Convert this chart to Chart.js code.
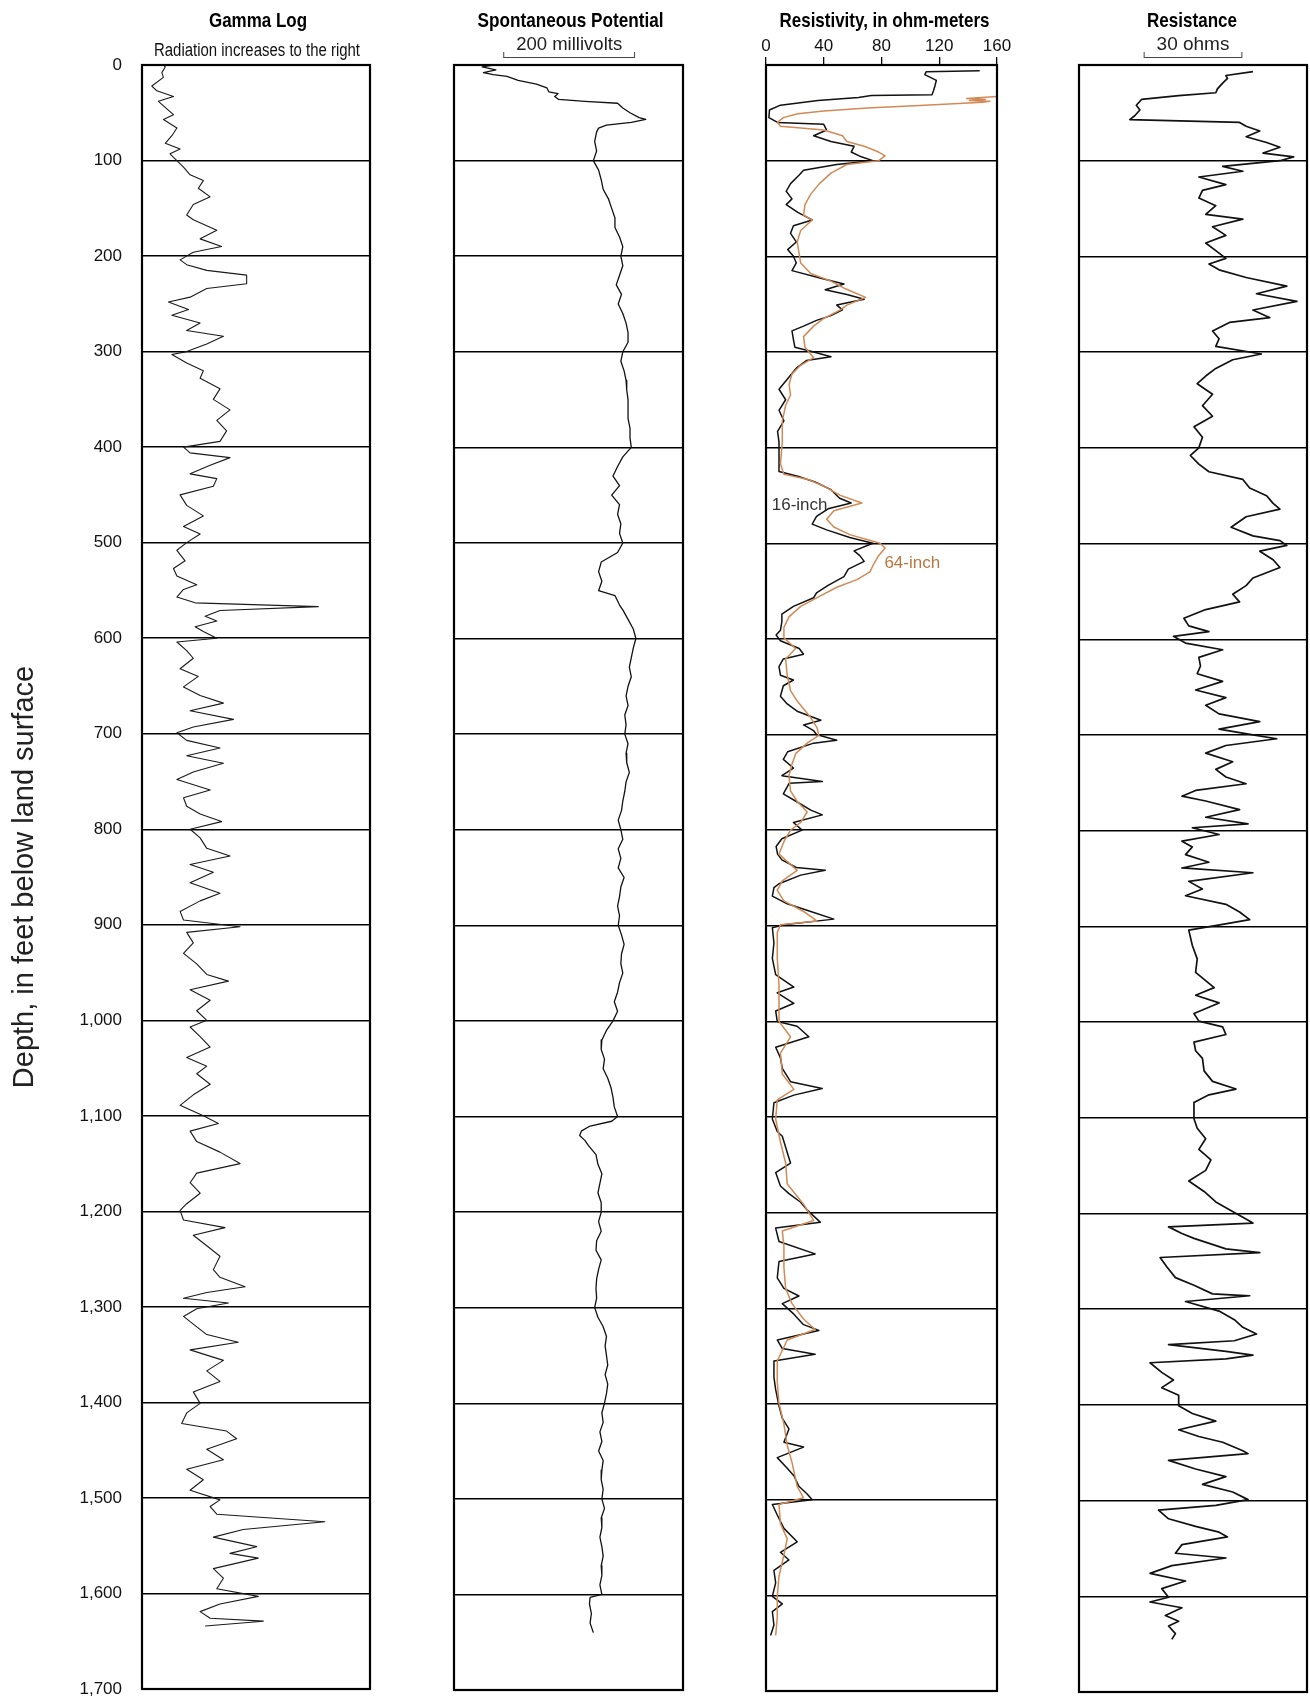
<!DOCTYPE html>
<html>
<head>
<meta charset="utf-8">
<title>Geophysical logs</title>
<script src="https://cdn.jsdelivr.net/npm/chart.js@4.4.0/dist/chart.umd.min.js"></script>
<style>
  html, body { margin: 0; padding: 0; background: #fff; }
  #page { position: relative; width: 1310px; height: 1697px; }
  #page canvas { position: absolute; left: 0; top: 0; }
</style>
</head>
<body>
<div id="page">
  <canvas id="gamma" width="1310" height="1697"></canvas>
  <canvas id="sp" width="1310" height="1697"></canvas>
  <canvas id="resistivity" width="1310" height="1697"></canvas>
  <canvas id="resistance" width="1310" height="1697"></canvas>
</div>
<script>
// ---- data (depth in feet, values in each track's units) ----

// gamma, relative units (0 = left edge, 100 = right edge of track)
const gammaDepth = [0, 2, 8, 13, 22, 27, 33, 38, 46, 52, 57, 66, 74, 82, 88, 93, 100, 107, 115, 121, 129, 138, 146, 157, 162, 173, 182, 190, 196,
  204, 209, 215, 220, 229, 234, 243, 248, 256, 262, 270, 278, 284, 292, 300, 303, 312, 320, 328, 339, 350, 361, 372, 383, 394,
  400, 406, 411, 419, 428, 433, 441, 450, 461, 472, 483, 491, 500, 508, 519, 527, 535, 544, 549, 557, 563, 567, 571, 577, 582, 588, 593,
  600, 604, 613, 621, 632, 640, 651, 660, 668, 676, 685, 693, 699, 707, 715, 723, 731, 740, 748, 759, 767, 776, 784, 792,
  800, 809, 820, 828, 837, 845, 856, 867, 875, 886, 895, 902, 908, 919, 930, 941, 952, 959, 968, 979, 990,
  1000, 1007, 1017, 1028, 1039, 1048, 1056, 1067, 1078, 1089, 1100, 1108, 1116, 1127, 1138, 1150, 1160, 1170, 1181, 1192, 1199,
  1209, 1217, 1225, 1236, 1247, 1261, 1269, 1279, 1285, 1291, 1296, 1302, 1310, 1318, 1329, 1337, 1345, 1356, 1367, 1378, 1389,
  1401, 1411, 1422, 1430, 1438, 1449, 1460, 1470, 1481, 1492, 1502, 1509, 1517, 1525, 1533, 1541, 1551, 1558, 1563, 1574, 1584, 1595,
  1603, 1611, 1619, 1626, 1629, 1634];
const gammaValue = [9.5, 10.2, 8.7, 9.4, 4.3, 6.5, 13.8, 7.2, 10.9, 13.8, 9.4, 15.3, 13.1, 10.2, 16.7, 12.3, 15.3, 18.2, 21.1, 26.9, 24.7, 29.9, 22.5, 19.6, 22.5, 32.8, 25.5, 34.9, 22.5,
  16.7, 19.6, 28.4, 45.9, 45.9, 28.4, 21.1, 11.6, 20.4, 13.1, 25.5, 19.6, 35.7, 28.4, 19.6, 13.1, 19.6, 26.9, 25.5, 34.2, 31.3, 38.6, 32.8, 37.1, 34.2,
  18.2, 21.1, 38.6, 29.9, 21.1, 32.8, 31.3, 16.7, 19.6, 26.9, 18.2, 25.5, 19.6, 15.3, 18.9, 13.8, 15.3, 24.0, 18.2, 15.3, 23.3, 77.3, 34.2, 27.7, 32.8, 23.3, 26.9,
  32.8, 15.3, 19.6, 22.5, 16.7, 24.7, 18.2, 25.5, 35.7, 21.1, 40.1, 22.5, 15.3, 19.6, 34.2, 19.6, 35.7, 22.5, 15.3, 29.9, 18.2, 19.6, 25.5, 34.9,
  21.1, 25.5, 28.4, 38.6, 21.1, 31.3, 21.1, 34.2, 25.5, 16.7, 18.2, 43.0, 19.6, 22.5, 18.2, 24.0, 28.4, 37.9, 21.1, 29.9, 24.0,
  28.4, 21.1, 25.5, 29.9, 19.6, 28.4, 24.0, 29.9, 22.5, 16.7, 26.9, 33.5, 21.1, 24.0, 34.2, 43.0, 24.0, 21.1, 25.5, 19.6, 16.7,
  18.2, 36.4, 22.5, 28.4, 34.2, 31.3, 34.2, 45.2, 28.4, 18.2, 37.9, 24.0, 18.2, 22.5, 28.4, 42.2, 21.1, 35.7, 28.4, 34.2, 22.5,
  25.5, 19.6, 17.4, 37.1, 41.5, 28.4, 35.7, 19.6, 26.9, 21.1, 34.2, 29.9, 32.8, 80.2, 44.4, 31.3, 50.3, 38.6, 51.0, 31.3, 35.7, 32.8,
  51.0, 34.2, 25.5, 29.9, 53.2, 27.7];

// spontaneous potential, millivolts from the left edge of the track
const spDepth = [0, 2, 5, 8, 10, 12, 16, 20, 24, 28, 30, 33, 36, 38, 40, 45, 50, 55, 57, 60, 63, 66, 70, 80, 90,
  100, 110, 120, 130, 140, 150, 160, 170, 180, 190, 200, 210, 220, 230, 240, 250, 260, 270, 280, 290,
  300, 310, 320, 330, 340, 350, 360, 370, 380, 390, 400, 410, 420, 430, 440, 450, 460, 470, 480, 490,
  500, 510, 520, 530, 540, 550, 555, 565, 570, 580, 590, 600, 610, 620, 630, 640, 650, 660, 670, 680, 690,
  700, 710, 720, 730, 740, 750, 760, 770, 780, 790, 800, 810, 820, 830, 840, 850, 860, 870, 880, 890,
  900, 910, 920, 930, 940, 950, 960, 970, 980, 990, 1000, 1010, 1020, 1030, 1040, 1050, 1060, 1070, 1080, 1090,
  1100, 1105, 1110, 1115, 1120, 1125, 1130, 1140, 1150, 1160, 1170, 1180, 1190, 1200, 1210, 1220, 1230, 1240, 1250, 1260, 1270, 1280, 1290,
  1300, 1310, 1320, 1330, 1340, 1350, 1360, 1370, 1380, 1390, 1400, 1410, 1420, 1430, 1440, 1450, 1460, 1470, 1480, 1490,
  1500, 1510, 1520, 1530, 1540, 1550, 1560, 1570, 1580, 1590, 1600, 1603, 1610, 1620, 1630, 1640];
const spValue = [60, 43, 64, 45, 60, 81, 98, 126, 142, 145, 159, 154, 160, 200, 250, 258, 269, 283, 293, 271, 233, 221, 218, 215, 218,
  213, 221, 225, 228, 236, 241, 246, 246, 253, 258, 255, 258, 253, 248, 256, 251, 258, 263, 266, 266,
  258, 255, 260, 263, 264, 266, 266, 266, 269, 269, 271, 258, 250, 243, 253, 241, 253, 250, 255, 253,
  258, 250, 225, 221, 226, 221, 246, 253, 258, 266, 274, 278, 274, 271, 268, 271, 266, 263, 266, 261, 263,
  261, 266, 263, 264, 268, 263, 261, 258, 256, 251, 255, 258, 251, 255, 251, 260, 255, 253, 250, 253,
  251, 256, 260, 256, 255, 258, 253, 250, 245, 250, 243, 233, 226, 225, 230, 228, 235, 240, 243, 245,
  250, 241, 208, 195, 192, 200, 205, 217, 220, 226, 223, 220, 225, 225, 221, 225, 218, 217, 225, 221, 218, 217, 218,
  215, 220, 228, 233, 231, 233, 235, 231, 235, 233, 230, 226, 228, 223, 226, 221, 228, 226, 225, 228,
  226, 230, 225, 226, 223, 226, 228, 225, 226, 223, 226, 208, 207, 210, 208, 213];

// resistivity, ohm-meters, 16-inch normal
const res16Depth = [6, 7, 10, 16, 22, 27, 31, 32, 34, 37, 42, 47, 55, 60, 62, 68, 74, 80, 85, 91, 96,
  100, 104, 110, 115, 124, 132, 140, 146, 154, 162, 168, 176, 185, 193, 200, 207, 215, 223, 229, 235, 240, 245, 251, 256, 262, 267, 273, 278, 287, 295,
  300, 305, 309, 317, 328, 339, 350, 361, 372, 383, 394, 406, 417, 425, 430, 436, 444, 453, 458, 464, 472, 480, 486, 494,
  500, 508, 513, 519, 527, 535, 544, 552, 557, 566, 574, 582, 591, 596, 602, 610, 616, 621, 629, 638, 643, 649, 660, 668, 676, 685, 690, 696,
  700, 706, 709, 718, 726, 735, 743, 749, 751, 762, 770, 779, 784, 792, 800, 809, 817, 825, 831, 839, 842, 847, 856, 860, 869, 877, 885, 893, 899,
  902, 918, 934, 951, 964, 970, 981, 989, 1000, 1005, 1016, 1027, 1038, 1049, 1063, 1070, 1077, 1085,
  1102, 1115, 1120, 1137, 1148, 1158, 1172, 1180, 1189, 1197, 1210, 1216, 1230, 1243, 1251, 1268, 1279, 1287, 1295,
  1306, 1317, 1323, 1333, 1342, 1348, 1355, 1372, 1385, 1402, 1415, 1426, 1440, 1445, 1456, 1467, 1475, 1486, 1494,
  1500, 1505, 1516, 1530, 1544, 1555, 1563, 1574, 1587, 1601, 1609, 1617, 1631, 1642];
const res16Value = [148, 111, 110, 118, 117, 116, 115, 73, 64, 36, 10, 2.4, 2, 8, 40, 42, 33, 45, 61, 59, 66,
  74, 49, 26, 23, 17, 14, 18, 14, 22, 32, 19, 17, 21, 15, 19, 21, 18, 38, 54, 41, 56, 68, 49, 53, 45, 35, 26, 18, 19, 20,
  33, 45, 28, 21, 15, 9, 13.6, 9, 12.4, 8, 9, 9, 9, 9, 22, 34, 45, 51, 59, 43, 35, 32, 42, 58,
  74, 61, 65, 68, 57, 54, 43, 35, 33, 19, 11, 11, 10, 7, 10, 23, 26, 12, 9, 10, 19, 12, 10, 14.7, 22, 38, 26, 33,
  35, 49, 33, 15, 12, 19, 11, 39, 16, 12, 21, 31, 39, 19, 25, 11, 7, 8, 11, 21, 41, 24, 9, 5.5, 4.4, 14.7, 31, 47, 12.4,
  4.4, 5.5, 4.4, 6.7, 19.3, 7.8, 19.3, 6.7, 7.8, 21.6, 29.7, 6.7, 10, 11.3, 17, 38.9, 19.3, 5.5,
  4.4, 7.8, 11.3, 14.7, 17, 6.7, 10, 15.9, 24, 28.5, 37.7, 6.7, 9, 34, 9, 7.8, 12.4, 22.8, 11.3,
  19.3, 26, 36.6, 7.8, 11.3, 34, 5.5, 5.5, 6.7, 9, 11.3, 15.9, 12.4, 26, 7.8, 14.7, 19.3, 22.8, 28.5,
  32, 4.4, 7.8, 12.4, 21.6, 10, 15.9, 5.5, 6.7, 4.4, 11.3, 4.4, 5.5, 3.2];

// resistivity, ohm-meters, 64-inch normal
const res64Depth = [33, 35, 36, 37, 38, 39, 42, 45, 48, 51, 55, 60, 64, 68, 74, 80, 85, 91, 95,
  100, 104, 113, 124, 135, 146, 157, 162, 173, 185, 196, 207, 218, 226, 234, 243, 251, 256, 265, 273, 284, 295,
  306, 314, 323, 334, 345, 356, 372, 394, 417, 428, 433, 441, 450, 458, 466, 475, 483, 491,
  500, 505, 513, 522, 530, 538, 546, 555, 566, 577, 588, 599, 610, 621, 638, 654, 665, 682, 693,
  701, 709, 720, 731, 743, 759, 770, 781, 792, 800, 812, 825, 842, 853, 863, 874, 885, 895, 899,
  907, 934, 962, 984, 1000, 1016, 1033, 1055, 1071, 1082, 1102, 1126, 1148, 1170, 1191, 1208, 1219, 1235, 1257, 1279, 1295,
  1311, 1322, 1333, 1355, 1377, 1399, 1421, 1443, 1461, 1486, 1498, 1505, 1525, 1541, 1558, 1580, 1601, 1623, 1642];
const res64Value = [160, 139, 152, 141, 155, 150, 110, 70, 40, 22, 12, 8, 10, 40, 53, 56, 68, 78, 82.5,
  78, 56, 45, 37, 31, 27, 26, 32, 24, 21.6, 22.8, 24, 31, 45, 55, 69, 56, 51.5, 40, 33, 26, 27,
  33, 24, 18, 16, 17, 13.6, 11.3, 11.3, 10, 12.4, 28.5, 41, 51.5, 66.4, 47, 42, 47, 58,
  79, 82.5, 78, 74.5, 72, 63, 49, 37.7, 24, 15.9, 12.4, 12.4, 20.5, 13.6, 14.7, 17, 21.6, 30.8, 35.4,
  36.6, 28.5, 20.5, 18, 15.9, 17, 21.6, 28.5, 24, 17, 12.4, 9, 21.6, 11.3, 7.8, 12.4, 26, 35.4, 10,
  7.8, 7.8, 9, 9, 9, 17, 10, 11.3, 19.3, 7.8, 6.7, 10, 13.6, 14.7, 26, 33, 11.3, 12.4, 12.4, 13.6, 18,
  26, 34, 14.7, 7.8, 7.8, 9, 12.4, 14.7, 18, 21.6, 26, 9, 10, 14.7, 12.4, 9, 7.8, 7.8, 6.7];

// resistance, ohms
const ohmDepth = [7, 11, 14, 19, 25, 29, 32, 36, 42, 47, 53, 57, 60, 64, 69, 75, 81, 86, 92, 96,
  100, 106, 111, 117, 125, 131, 139, 147, 156, 161, 169, 178, 186, 194, 202, 208, 214, 222, 231, 239, 247, 256, 264, 269, 278, 286, 294,
  302, 308, 317, 325, 333, 344, 356, 367, 378, 389, 400, 408, 417, 425, 433, 442, 450, 458, 464, 472, 483, 492, 497,
  502, 508, 517, 525, 536, 544, 553, 561, 569, 578, 586, 592, 597, 604, 611, 619, 628, 636, 644, 653, 661, 669, 678, 686, 694,
  700, 704, 711, 719, 728, 736, 744, 751, 758, 764, 769, 778, 786, 793, 797, 804, 811, 817, 825, 833, 839, 844, 853, 861, 868, 877, 885, 893, 898,
  904, 920, 934, 948, 964, 972, 980, 991, 999, 1005, 1013, 1021, 1030, 1038, 1051, 1062, 1070, 1076, 1084,
  1101, 1111, 1122, 1133, 1144, 1155, 1166, 1177, 1188, 1196, 1204, 1210, 1214, 1221, 1226, 1237, 1241, 1246, 1256, 1267, 1275, 1284, 1286, 1292,
  1302, 1311, 1319, 1326, 1333, 1337, 1344, 1348, 1352, 1356, 1366, 1374, 1382, 1390, 1401, 1409, 1417, 1426, 1433, 1439, 1448, 1451, 1458, 1467, 1475, 1483, 1491, 1499,
  1505, 1510, 1519, 1527, 1533, 1538, 1546, 1555, 1560, 1568, 1576, 1584, 1592, 1601, 1606, 1612, 1620, 1626, 1631, 1639, 1645];
const ohmValue = [53.4, 45.1, 45.6, 44.1, 42.5, 42.0, 30.6, 19.2, 17.6, 18.7, 17.1, 15.6, 49.3, 51.3, 55.5, 51.3, 57.6, 61.7, 56.5, 65.9,
  61.7, 44.1, 50.3, 36.8, 45.1, 37.9, 36.8, 42.0, 38.9, 50.3, 41.0, 45.1, 38.9, 42.0, 45.1, 39.9, 43.0, 51.3, 63.8, 54.5, 66.9, 53.4, 58.6, 46.2, 41.0, 43.0, 42.0,
  56.0, 47.2, 42.0, 38.9, 36.3, 41.0, 37.9, 41.0, 35.3, 37.9, 36.8, 34.2, 36.8, 39.9, 50.3, 52.4, 57.6, 59.6, 61.7, 51.3, 46.7, 53.4, 61.7,
  63.8, 55.5, 59.6, 61.7, 53.4, 51.3, 47.2, 49.3, 38.9, 32.2, 33.7, 39.9, 29.0, 32.7, 44.1, 36.8, 37.3, 36.3, 44.1, 35.8, 45.1, 38.9, 43.0, 55.5, 43.0,
  53.4, 60.7, 45.1, 38.9, 47.2, 42.0, 45.1, 51.3, 35.8, 31.6, 38.9, 49.3, 38.9, 51.9, 34.8, 43.0, 31.6, 34.8, 32.7, 39.9, 31.6, 53.4, 33.7, 37.9, 32.7, 45.1, 49.3, 52.4, 44.1,
  33.7, 34.8, 36.3, 35.8, 41.5, 35.8, 43.0, 35.3, 36.8, 44.1, 45.1, 35.3, 35.8, 37.9, 38.4, 41.0, 48.2, 39.9, 35.3,
  35.3, 36.3, 38.9, 36.8, 40.5, 38.9, 33.7, 38.4, 42.0, 46.2, 50.3, 53.4, 27.5, 31.6, 35.3, 45.1, 55.5, 24.9, 27.0, 29.6, 35.3, 41.0, 52.4, 32.7,
  43.0, 47.7, 50.3, 54.5, 47.7, 27.5, 45.1, 53.4, 45.1, 21.8, 25.4, 29.0, 25.4, 30.6, 30.6, 34.8, 42.0, 30.6, 36.8, 44.1, 50.3, 51.9, 27.5, 35.8, 45.1, 37.9, 47.2, 51.9,
  42.0, 24.4, 27.5, 35.8, 43.0, 45.6, 31.6, 29.6, 45.1, 28.5, 21.8, 32.7, 25.4, 27.5, 21.8, 31.6, 26.5, 30.6, 27.5, 29.6, 28.5];

// axis / scale-bar values
const depthTicks = [0, 1700, 100];          // min, max, step
const resistivityTicks = [0, 160, 40];
const spBar = [76, 276];                     // 200 millivolts
const ohmBar = [20, 50];                     // 30 ohms

// ---- drawing ----
const SANS = "'Liberation Sans', Arial, sans-serif";

function pts(depths, values) {
  return depths.map((d, i) => ({ x: values[i], y: d }));
}

// the source uses a condensed face; squeeze regular text to the measured width
function squeezed(ctx, text, x, y, font, width) {
  ctx.font = font;
  const s = Math.min(1, width / ctx.measureText(text).width);
  ctx.save();
  ctx.translate(x, y);
  ctx.scale(s, 1);
  ctx.fillText(text, 0, 0);
  ctx.restore();
}

const trackPlugin = {
  id: 'track',
  afterDraw(chart, args, opts) {
    const { ctx, chartArea: a } = chart;
    const cx = (a.left + a.right) / 2;
    ctx.save();
    ctx.fillStyle = '#000';
    ctx.textAlign = 'center';
    ctx.textBaseline = 'middle';
    squeezed(ctx, opts.title, cx + (opts.titleDx || 0), 21, 'bold 21px ' + SANS, opts.titleW);
    if (opts.subtitle) {
      ctx.fillStyle = '#111';
      squeezed(ctx, opts.subtitle, cx + 1, 51, '18px ' + SANS, opts.subtitleW);
    }
    if (opts.bar) {
      const xs = chart.scales.x;
      const x0 = xs.getPixelForValue(opts.bar[0]);
      const x1 = xs.getPixelForValue(opts.bar[1]);
      ctx.lineWidth = 1;
      ctx.strokeStyle = '#444';
      ctx.beginPath();
      ctx.moveTo(x0, 52); ctx.lineTo(x0, 58);
      ctx.moveTo(x0, 57.5); ctx.lineTo(x1, 57.5);
      ctx.moveTo(x1, 52); ctx.lineTo(x1, 58);
      ctx.stroke();
      ctx.fillStyle = '#222';
      squeezed(ctx, opts.barLabel, (x0 + x1) / 2, 45, '19px ' + SANS, opts.barLabelW);
    }
    (opts.labels || []).forEach(l => {
      ctx.font = '17px ' + SANS;
      ctx.fillStyle = l.color;
      ctx.textAlign = 'left';
      ctx.fillText(l.text, chart.scales.x.getPixelForValue(l.x), chart.scales.y.getPixelForValue(l.y));
    });
    ctx.strokeStyle = '#000';
    ctx.lineWidth = 2.2;
    ctx.strokeRect(a.left, a.top, a.right - a.left, a.bottom - a.top);
    ctx.restore();
  }
};

function depthAxis(extra) {
  return Object.assign({
    type: 'linear', reverse: true,
    min: depthTicks[0], max: depthTicks[1],
    ticks: { display: false, stepSize: depthTicks[2] },
    grid: { color: '#000', lineWidth: 1.4, drawTicks: false },
    border: { display: false },
    afterFit: s => { s.width = 0; }
  }, extra || {});
}

function makeTrack(id, box, datasets, xScale, yExtra, trackOpts) {
  return new Chart(document.getElementById(id), {
    type: 'line',
    data: { datasets },
    options: {
      responsive: false,
      animation: false,
      events: [],
      layout: { padding: { left: box.left, right: 1310 - box.right, top: box.top, bottom: 1697 - box.bottom } },
      elements: { point: { radius: 0 }, line: { tension: 0, borderJoinStyle: 'round' } },
      plugins: { legend: { display: false }, tooltip: { enabled: false }, track: trackOpts },
      scales: { x: xScale, y: depthAxis(yExtra) }
    },
    plugins: [trackPlugin]
  });
}

// Gamma log (carries the depth axis)
makeTrack('gamma', { left: 0, right: 370, top: 65, bottom: 1689 },
  [{ data: pts(gammaDepth, gammaValue), borderColor: '#1a1a1a', borderWidth: 1.1 }],
  { type: 'linear', display: false, min: 0, max: 100 },
  {
    ticks: {
      display: true, stepSize: depthTicks[2], padding: 0, color: '#111',
      font: { family: SANS, size: 17, lineHeight: 0.6 },
      callback: v => v.toLocaleString('en-US')
    },
    grid: { color: '#000', lineWidth: 1.4, drawTicks: true, tickLength: 20, tickColor: 'rgba(0,0,0,0)' },
    title: {
      display: true, text: 'Depth, in feet below land surface', color: '#222',
      font: { family: SANS, size: 29, lineHeight: 1.2 }, padding: { top: 8, bottom: 0 }
    },
    afterFit: s => { s.width = 142; }
  },
  { title: 'Gamma Log', titleW: 98, titleDx: 2, subtitle: 'Radiation increases to the right', subtitleW: 206 });

// Spontaneous potential
makeTrack('sp', { left: 454, right: 683, top: 65, bottom: 1690 },
  [{ data: pts(spDepth, spValue), borderColor: '#111', borderWidth: 1.3 }],
  { type: 'linear', display: false, min: 0, max: 350 },
  null,
  { title: 'Spontaneous Potential', titleW: 186, titleDx: 2, bar: spBar, barLabel: '200 millivolts', barLabelW: 106 });

// Resistivity
makeTrack('resistivity', { left: 766, right: 997, top: 0, bottom: 1691 },
  [
    { data: pts(res64Depth, res64Value), borderColor: '#d18a55', borderWidth: 1.5 },
    { data: pts(res16Depth, res16Value), borderColor: '#111', borderWidth: 1.5 }
  ],
  {
    type: 'linear', position: 'top', min: resistivityTicks[0], max: resistivityTicks[1],
    ticks: { stepSize: resistivityTicks[2], padding: 0, color: '#111', maxRotation: 0, font: { family: SANS, size: 17 } },
    grid: { drawOnChartArea: false, drawTicks: true, tickLength: 8, color: '#000', lineWidth: 1.3 },
    border: { display: true, color: '#000', width: 2 },
    afterFit: s => { s.height = 65; }
  },
  null,
  {
    title: 'Resistivity, in ohm-meters', titleW: 210, titleDx: 3,
    labels: [
      { text: '16-inch', x: 4, y: 460, color: '#333' },
      { text: '64-inch', x: 82, y: 521, color: '#b8773f' }
    ]
  });

// Resistance
makeTrack('resistance', { left: 1079, right: 1307, top: 65, bottom: 1692 },
  [{ data: pts(ohmDepth, ohmValue), borderColor: '#111', borderWidth: 1.7 }],
  { type: 'linear', display: false, min: 0, max: 70 },
  null,
  { title: 'Resistance', titleW: 90, titleDx: -1, bar: ohmBar, barLabel: '30 ohms', barLabelW: 74 });
</script>
</body>
</html>
